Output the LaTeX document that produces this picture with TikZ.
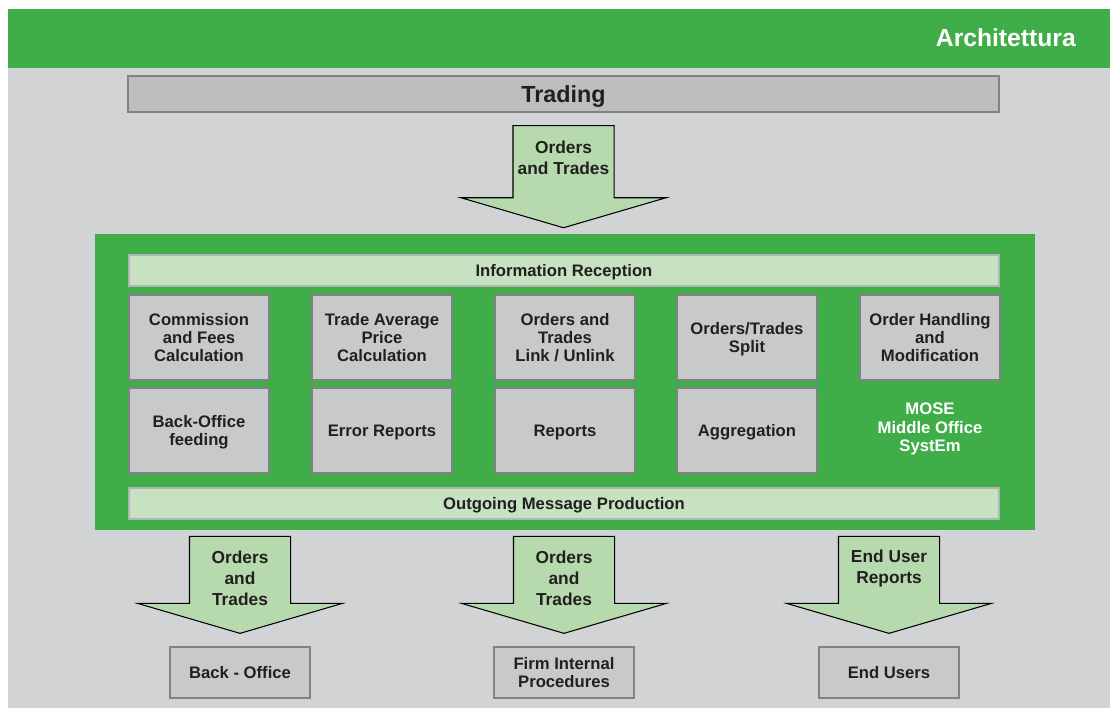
\documentclass[tikz,border=0pt]{standalone}
\usepackage{fontspec}
\setmainfont{Liberation Sans}
\usetikzlibrary{calc}
\definecolor{headgreen}{HTML}{3FAE49}
\definecolor{pagegray}{HTML}{D1D3D4}
\definecolor{boxgray}{HTML}{C8C9CB}
\definecolor{bargray}{HTML}{BCBEC0}
\definecolor{bargreen}{HTML}{C6E2C0}
\definecolor{arrowgreen}{HTML}{B6DAAE}
\definecolor{inkgray}{HTML}{231F20}
\definecolor{linegray}{HTML}{808285}
\tikzset{
  module/.style={draw=linegray, line width=1pt, fill=boxgray, minimum width=105pt, minimum height=63.75pt,
    inner sep=0pt, text depth=0pt, align=center, text=inkgray, font=\bfseries\fontsize{12.5}{13.5}\selectfont},
  band/.style={draw=linegray!60, line width=0.8pt, fill=bargreen, minimum width=652.5pt, minimum height=23.25pt,
    inner sep=0pt, text depth=0pt, text=inkgray, font=\bfseries\fontsize{12.5}{14}\selectfont},
  target/.style={module, minimum height=38.25pt},
  arrowtext/.style={align=center, text=inkgray, font=\bfseries\fontsize{13}{16}\selectfont},
  flowarrow/.style={draw=black, line width=0.8pt, fill=arrowgreen,
    to path={let \p1=(\tikztostart), \p2=(\tikztotarget) in
      (\x1-37.9pt,\y1) -- (\x1-37.9pt,\y2+22.5pt) -- (\x1-76.9pt,\y2+22.5pt) -- (\x1,\y2)
      -- (\x1+76.9pt,\y2+22.5pt) -- (\x1+37.9pt,\y2+22.5pt) -- (\x1+37.9pt,\y1) -- cycle}}
}
\begin{document}
\begin{tikzpicture}[x=0.75pt, y=-0.75pt]
        \useasboundingbox (0,0) rectangle (1110,708);
        \fill[white] (0,0) rectangle (1110,708);
        \fill[pagegray] (8,68) rectangle (1110,708);
        % header
        \fill[headgreen] (8,9) rectangle (1110,68);
        \node[anchor=east, inner sep=0pt, text=white, font=\bfseries\fontsize{18.5}{20}\selectfont] (title) at (1076,38) {Architettura};
        \node[draw=linegray, line width=1pt, fill=bargray, minimum width=653.25pt, minimum height=27pt, inner sep=0pt,
          text depth=0pt, text=inkgray, font=\bfseries\fontsize{17.5}{20}\selectfont] (trading) at (563.5,94) {Trading};
        % middle office block
        \node[fill=headgreen, minimum width=705pt, minimum height=222pt, inner sep=0pt] (mose) at (565,382) {};
        \node[band] (reception) at (564,270.5) {Information Reception};
        \node[band] (outgoing) at (564,503.5) {Outgoing Message Production};
        \node[module] (fees) at (199,337.5) {Commission\\and Fees\\Calculation};
        \node[module] (average) at (382,337.5) {Trade Average\\Price\\Calculation};
        \node[module] (link) at (565,337.5) {Orders and\\Trades\\Link / Unlink};
        \node[module] (split) at (747,337.5) {Orders/Trades\\Split};
        \node[module] (handling) at (930,337.5) {Order Handling\\and\\Modification};
        \node[module] (feeding) at (199,430.5) {Back-Office\\feeding};
        \node[module] (errors) at (382,430.5) {Error Reports};
        \node[module] (reports) at (565,430.5) {Reports};
        \node[module] (aggregation) at (747,430.5) {Aggregation};
        \node[align=center, text=white, font=\bfseries\fontsize{12.5}{14}\selectfont] (moselbl) at (930,429) {MOSE\\Middle Office\\SystEm};
        % destinations
        \node[target] (backoffice) at (240,672.5) {Back - Office};
        \node[target] (firm) at (564,672.5) {Firm Internal\\Procedures};
        \node[target] (endusers) at (889,672.5) {End Users};
        % arrows
        \coordinate (in0) at ($(trading.south)+(0,13)$);
        \coordinate (out0) at ($(mose.north)+(0,-6)$);
        \draw[flowarrow] (in0) to (out0);
        \node[arrowtext] (lbl0) at ($(in0)+(0,32)$) {Orders\\and Trades};
        \coordinate (in1) at ($(backoffice.north)+(0,-110)$);
        \coordinate (out1) at ($(backoffice.north)+(0,-13)$);
        \draw[flowarrow] (in1) to (out1);
        \node[arrowtext] (lbl1) at ($(in1)+(0,42)$) {Orders\\and\\Trades};
        \coordinate (in2) at ($(firm.north)+(0,-110)$);
        \coordinate (out2) at ($(firm.north)+(0,-13)$);
        \draw[flowarrow] (in2) to (out2);
        \node[arrowtext] (lbl2) at ($(in2)+(0,42)$) {Orders\\and\\Trades};
        \coordinate (in3) at ($(endusers.north)+(0,-110)$);
        \coordinate (out3) at ($(endusers.north)+(0,-13)$);
        \draw[flowarrow] (in3) to (out3);
        \node[arrowtext] (lbl3) at ($(in3)+(0,32)$) {End User\\Reports};
\end{tikzpicture}
\end{document}
